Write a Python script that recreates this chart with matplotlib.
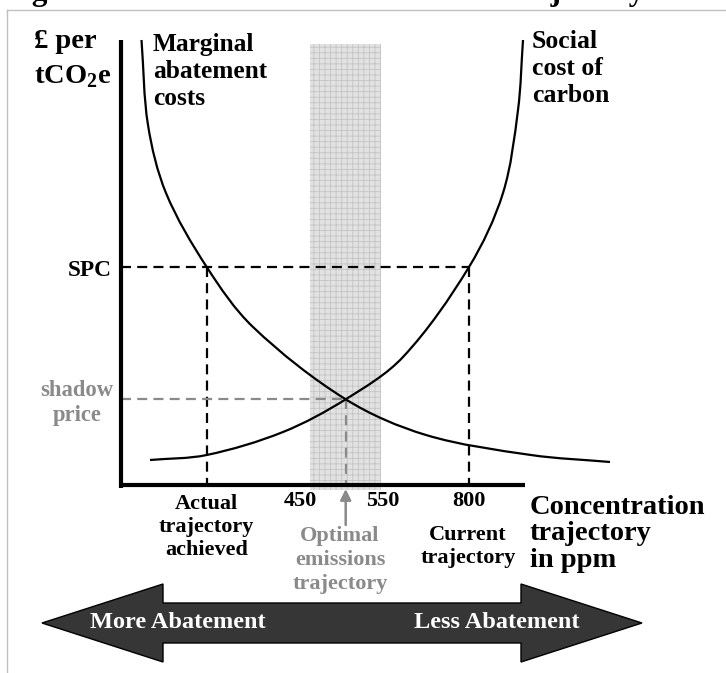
import numpy as np
import matplotlib
matplotlib.use("Agg")
from matplotlib import pyplot as plt
from matplotlib.path import Path
from matplotlib.patches import PathPatch, Polygon, Rectangle

plt.rcParams['font.family'] = ['Liberation Serif', 'DejaVu Serif']
plt.rcParams['font.weight'] = 'bold'
plt.rcParams['hatch.linewidth'] = 0.6
plt.rcParams['hatch.color'] = '#c4c4c4'

# Data (chart units, origin at the axes corner) ----------------
mac_x = [20.5, 27, 45, 85.7, 132, 224.7, 305, 410, 489]
mac_y = [445, 360, 292, 218, 158, 85.7, 50, 30, 23]
scc_x = [29, 85.7, 162, 224.7, 282, 348, 382, 397, 402]
scc_y = [25, 30, 53, 85.7, 128, 218, 292, 375, 445]

spc_level = 218
shadow_price = 85.7
x_actual = 85.7
x_optimal = 224.7
x_current = 348
band = [189, 260]            # 450 - 550 ppm range
tick_pos = [179, 262, 348]
tick_labels = ["450", "550", "800"]

BLACK = '#000000'
GREY = '#8a8a8a'


def smooth_path(xs, ys):
    # chord-length Catmull-Rom through the read points, as cubic bezier segments
    p = np.column_stack([xs, ys]).astype(float)
    n = len(p)
    t = np.concatenate([[0], np.cumsum(np.hypot(*np.diff(p, axis=0).T))])
    m = np.zeros_like(p)
    m[0] = (p[1] - p[0]) / (t[1] - t[0])
    m[-1] = (p[-1] - p[-2]) / (t[-1] - t[-2])
    for i in range(1, n - 1):
        m[i] = (p[i + 1] - p[i - 1]) / (t[i + 1] - t[i - 1])
    verts = [p[0]]
    codes = [Path.MOVETO]
    for i in range(n - 1):
        h = (t[i + 1] - t[i]) / 3.0
        verts += [p[i] + m[i] * h, p[i + 1] - m[i + 1] * h, p[i + 1]]
        codes += [Path.CURVE4] * 3
    return Path(verts, codes)


fig = plt.figure(figsize=(7.26, 6.73), dpi=100)
ax = fig.add_axes([0, 0, 1, 1])
ax.set_xlim(-121, 605)
ax.set_ylim(-188, 485)
ax.axis('off')

# page edges / cut title
ax.plot([-114, 605], [475.5, 475.5], color='#c0c0c0', lw=1.0)
ax.plot([-114, -114], [475.5, -188], color='#c0c0c0', lw=1.0)
ax.text(-117, 485, "Figure 2: The SPC and concentration trajectory",
        fontsize=22.5, ha='left', va='baseline')

# optimal range band
ax.add_patch(Rectangle((band[0], -5), band[1] - band[0], 446,
                       facecolor='#e2e2e2', edgecolor='#c4c4c4', lw=0,
                       hatch='+++', zorder=1))

# axes
ax.plot([0, 0], [445, -3], color=BLACK, lw=3.0, solid_capstyle='butt', zorder=5)
ax.plot([-2, 404], [0, 0], color=BLACK, lw=3.0, solid_capstyle='butt', zorder=5)

# curves
ax.add_patch(PathPatch(smooth_path(mac_x, mac_y), fill=False, lw=1.6, edgecolor=BLACK, zorder=4))
ax.add_patch(PathPatch(smooth_path(scc_x, scc_y), fill=False, lw=1.6, edgecolor=BLACK, zorder=4))

# guide lines
dash = (4.5, 2.8)
ax.plot([0, x_current], [spc_level, spc_level], color=BLACK, lw=1.6, dashes=dash, zorder=3)
ax.plot([x_actual, x_actual], [spc_level, 0], color=BLACK, lw=1.6, dashes=dash, zorder=3)
ax.plot([x_current, x_current], [spc_level, 0], color=BLACK, lw=1.6, dashes=dash, zorder=3)
ax.plot([0, x_optimal], [shadow_price, shadow_price], color=GREY, lw=1.6, dashes=dash, zorder=3)
ax.plot([x_optimal, x_optimal], [shadow_price, 0], color=GREY, lw=1.6, dashes=dash, zorder=3)
ax.annotate('', xy=(x_optimal, -4), xytext=(x_optimal, -40),
            arrowprops=dict(arrowstyle='-|>', color=GREY, lw=1.8, mutation_scale=16,
                            shrinkA=0, shrinkB=0))

# text labels
ax.text(-87, 443, "£ per", fontsize=20.5, ha='left', va='center')
ax.text(-87, 408, r"tCO$_\mathregular{2}$e", fontsize=20.5, ha='left', va='center')
ax.text(32, 452, "Marginal\nabatement\ncosts", fontsize=18.3, ha='left', va='top', linespacing=1.22)
ax.text(411, 455, "Social\ncost of\ncarbon", fontsize=18.5, ha='left', va='top', linespacing=1.22)
ax.text(-9, 215, "SPC", fontsize=16.8, ha='right', va='center')
ax.text(-44, 82, "shadow\nprice", fontsize=16.3, ha='center', va='center', color=GREY, linespacing=1.2)

for xp, lab in zip(tick_pos, tick_labels):
    ax.text(xp, -16, lab, fontsize=16, ha='center', va='center')
ax.text(x_actual, -42, "Actual\ntrajectory\nachieved", fontsize=16, ha='center', va='center', linespacing=1.22)
ax.text(219, -75, "Optimal\nemissions\ntrajectory", fontsize=16, ha='center', va='center',
        color=GREY, linespacing=1.25)
ax.text(347, -61.5, "Current\ntrajectory", fontsize=16, ha='center', va='center', linespacing=1.25)
ax.text(409, -49, "Concentration\ntrajectory\nin ppm", fontsize=20.5, ha='left', va='center',
        linespacing=1.1)

# double arrow
arrow = [(-79, -138), (42, -99), (42, -118), (400, -118), (400, -99), (521, -138),
         (400, -177), (400, -158), (42, -158), (42, -177)]
ax.add_patch(Polygon(arrow, closed=True, facecolor='#363636', edgecolor=BLACK, lw=1.0))
ax.text(57, -137, "More Abatement", fontsize=17.5, ha='center', va='center', color='white')
ax.text(376, -137, "Less Abatement", fontsize=17.5, ha='center', va='center', color='white')

fig.savefig("out.png", dpi=100)
